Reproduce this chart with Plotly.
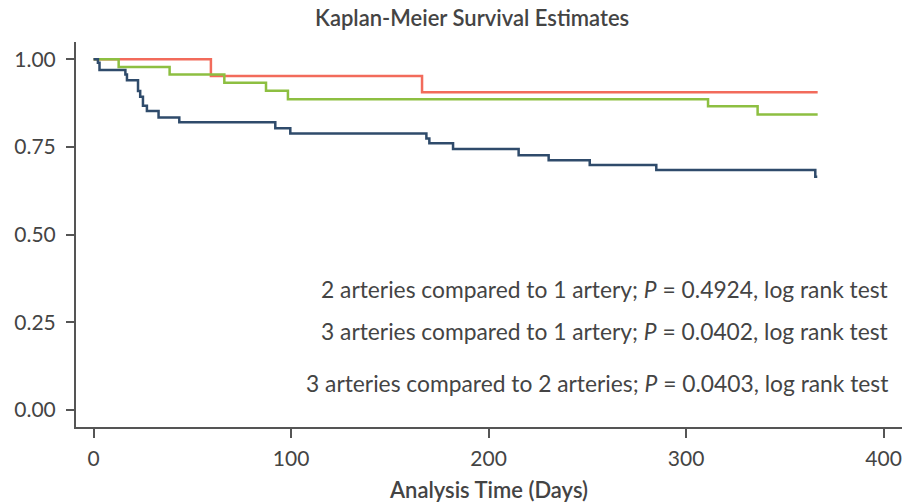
import plotly.graph_objects as go

# Kaplan-Meier step curves (time in days, survival probability)
days_1_artery = [0, 2.2, 3.0, 16.1, 16.9, 22.5, 23.6, 25.0, 27.0, 32.9, 43.4, 92.0, 99.6,
                 168.5, 170.0, 182.0, 215.2, 230.4, 251.2, 284.9, 365.4, 366.4]
surv_1_artery = [1.0, 0.99, 0.969, 0.956, 0.940, 0.909, 0.893, 0.867, 0.852, 0.834, 0.820, 0.803, 0.788,
                 0.774, 0.760, 0.744, 0.726, 0.712, 0.698, 0.684, 0.665, 0.665]

days_2_arteries = [0, 12.7, 38.5, 66.2, 87.3, 98.4, 311.1, 336.2, 366.6]
surv_2_arteries = [1.0, 0.978, 0.956, 0.933, 0.910, 0.886, 0.866, 0.842, 0.842]

days_3_arteries = [0, 59.4, 166.3, 366.6]
surv_3_arteries = [1.0, 0.952, 0.906, 0.906]

x_ticks = [0, 100, 200, 300, 400]
y_ticks = [0.0, 0.25, 0.50, 0.75, 1.0]
y_tick_text = ["0.00", "0.25", "0.50", "0.75", "1.00"]

comparisons = [
    "2 arteries compared to 1 artery; <i>P</i> = 0.4924, log rank test",
    "3 arteries compared to 1 artery; <i>P</i> = 0.0402, log rank test",
    "3 arteries compared to 2 arteries; <i>P</i> = 0.0403, log rank test",
]
comparison_y = [0.358, 0.249, 0.114]

FONT = "Lato"
TEXT = "#444444"
AXIS = "#555555"

fig = go.Figure()
for xs, ys, color, name in [
    (days_3_arteries, surv_3_arteries, "#F26B5B", "3 arteries"),
    (days_2_arteries, surv_2_arteries, "#8DBF41", "2 arteries"),
    (days_1_artery, surv_1_artery, "#2F4B6B", "1 artery"),
]:
    fig.add_trace(go.Scatter(x=xs, y=ys, mode="lines", name=name,
                             line=dict(color=color, width=2.5, shape="hv")))

for text, yy in zip(comparisons, comparison_y):
    fig.add_annotation(text=text, xref="paper", yref="paper", x=0.986, y=yy,
                       xanchor="right", yanchor="middle", showarrow=False,
                       font=dict(family=FONT, size=22.8, color=TEXT))

fig.update_layout(
    width=908, height=504,
    margin=dict(l=76, r=6, t=42, b=77),
    plot_bgcolor="white", paper_bgcolor="white",
    showlegend=False,
    font=dict(family=FONT, color=TEXT),
    title=dict(text="Kaplan-Meier Survival Estimates", x=0.52, xanchor="center",
               y=0.964, yanchor="middle",
               font=dict(family=FONT, size=22, color=TEXT, weight=600)),
    xaxis=dict(range=[-8.9, 409.3], tickvals=x_ticks, showgrid=False, zeroline=False,
               showline=True, linecolor=AXIS, linewidth=2,
               ticks="outside", ticklen=9, tickwidth=2, tickcolor=AXIS,
               tickfont=dict(family=FONT, size=21, color=TEXT), ticklabelstandoff=3,
               title=dict(text="Analysis Time (Days)", standoff=13,
                          font=dict(family=FONT, size=22, color=TEXT, weight=600))),
    yaxis=dict(range=[-0.049, 1.049], tickvals=y_ticks, ticktext=y_tick_text,
               showgrid=False, zeroline=False,
               showline=True, linecolor=AXIS, linewidth=2,
               ticks="outside", ticklen=8, tickwidth=2, tickcolor=AXIS,
               tickfont=dict(family=FONT, size=21, color=TEXT), ticklabelstandoff=6),
)

fig.write_html("out.html")
